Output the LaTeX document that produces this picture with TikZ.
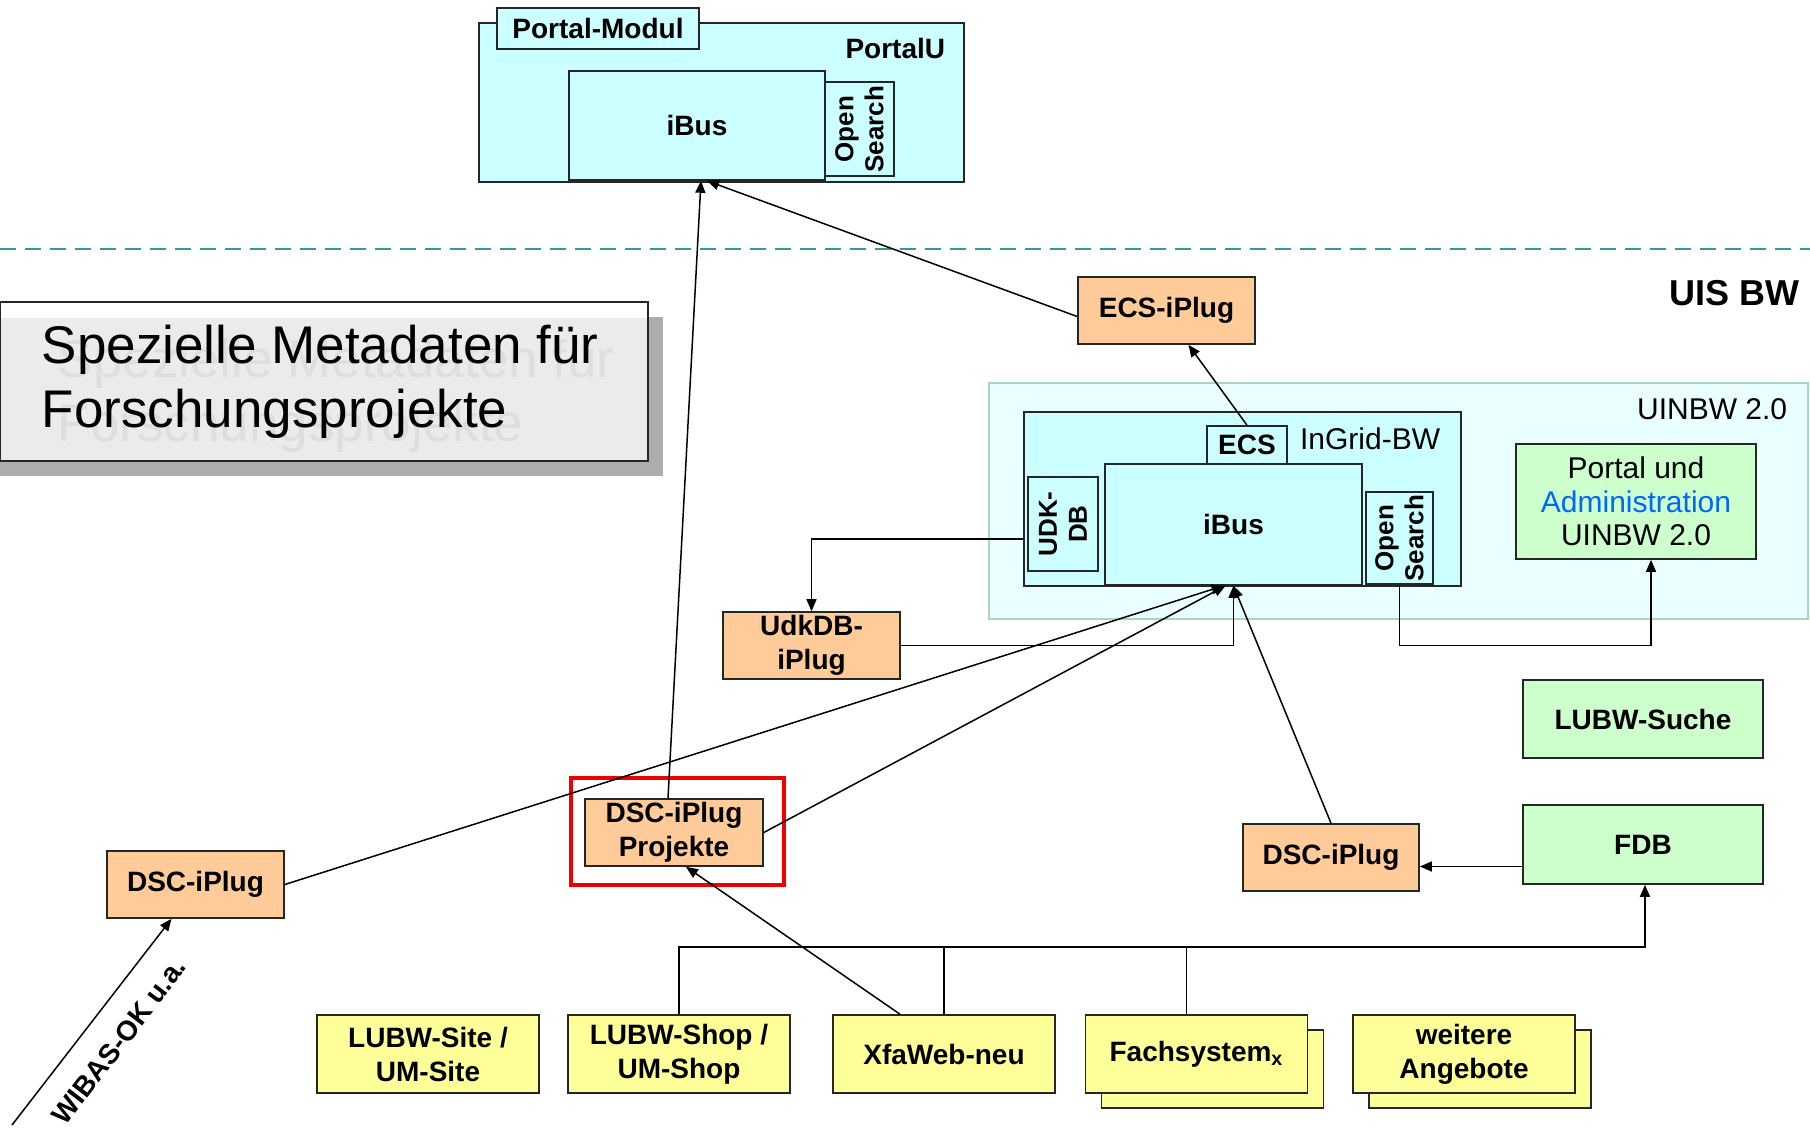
\documentclass[tikz,border=0pt]{standalone}
\usepackage{fontspec}
\setmainfont{Liberation Sans}
\usetikzlibrary{arrows.meta}

\definecolor{boxcyan}{RGB}{204,255,255}
\definecolor{plugorange}{RGB}{255,204,153}
\definecolor{uinbwgreen}{RGB}{204,255,204}
\definecolor{sourceyellow}{RGB}{255,255,153}
\definecolor{uinbwfill}{RGB}{234,255,255}
\definecolor{uinbwline}{RGB}{166,217,188}
\definecolor{dashteal}{RGB}{51,153,153}
\definecolor{panelgray}{RGB}{235,235,235}
\definecolor{shadowgray}{RGB}{173,173,173}
\definecolor{ghostgray}{RGB}{222,222,222}
\definecolor{redframe}{RGB}{240,0,0}
\definecolor{adminblue}{RGB}{0,102,255}
\definecolor{linegray}{RGB}{38,38,38}

\newcommand{\boxfont}{\bfseries\fontsize{14}{17}\selectfont}
\newcommand{\plainfont}{\fontsize{15}{16.7}\selectfont}
\newcommand{\turnfont}{\bfseries\fontsize{13}{15}\selectfont}

\begin{document}
\begin{tikzpicture}[x=0.5pt,y=0.5pt,yscale=-1,xscale=1,
  >={Triangle[length=6pt,width=5pt]},
  every node/.style={inner sep=0.75pt},
  cyanbox/.style={draw=linegray,fill=boxcyan,line width=0.8pt,inner sep=0pt,align=center},
  plugbox/.style={draw=linegray,fill=plugorange,line width=0.8pt,inner sep=0pt,align=center,font=\boxfont,minimum width=88.5pt,minimum height=33.5pt},
  greenbox/.style={draw=linegray,fill=uinbwgreen,line width=0.8pt,inner sep=0pt,align=center,font=\boxfont,minimum width=120pt},
  yellowbox/.style={draw=linegray,fill=sourceyellow,line width=0.8pt,inner sep=0pt,align=center,font=\boxfont,minimum width=111pt,minimum height=39pt},
  turntext/.style={rotate=90,align=center,font=\turnfont,inner sep=0pt},
  conn/.style={draw=black,line width=0.75pt}]
\useasboundingbox (0,0) rectangle (1810,1131);

%Shape: Rectangle
\node[cyanbox,minimum width=242.5pt,minimum height=79.5pt] (portalu) at (721.5,102.5) {};
\node[cyanbox,font=\boxfont,minimum width=101pt,minimum height=20.5pt] (portalmodul) at (598,28.5) {Portal-Modul};
\node[cyanbox,font=\boxfont,minimum width=128pt,minimum height=54.5pt] (ibustop) at (697,125.5) {iBus};
\node[cyanbox,minimum width=34.5pt,minimum height=47pt] (ostop) at (859.5,129) {};
\node[turntext] (ostoptext) at (ostop) {Open\\Search};
% Text Node
\node[font=\boxfont,anchor=east] (portalulabel) at (947,48) {PortalU};

%Straight Lines
\draw[dashteal,line width=1pt,dash pattern=on 8pt off 4.5pt] (0,249) -- (1810,249);
% Text Node
\node[font=\bfseries\fontsize{18}{20}\selectfont,anchor=east] (uisbw) at (1801,293) {UIS BW};

%Shape: Rectangle
\fill[shadowgray] (0,317) rectangle (663,476);
\fill[white] (0,302) rectangle (648,461);
\fill[panelgray] (0,318) rectangle (648,461);
\draw[linegray,line width=0.8pt] (0,302) rectangle (648,461);
% Text Node
\node[anchor=base west,align=left,text=ghostgray,font=\fontsize{26.5}{31.7}\selectfont] (spezialghost) at (56,441) {Spezielle Metadaten für\\Forschungsprojekte};
\node[anchor=base west,align=left,font=\fontsize{26.5}{31.7}\selectfont] (spezial) at (40,427) {Spezielle Metadaten für\\Forschungsprojekte};

%Shape: Rectangle
\node[plugbox] (ecsiplug) at (1166.5,310.5) {ECS-iPlug};

%Shape: Rectangle
\node[draw=uinbwline,fill=uinbwfill,line width=0.8pt,minimum width=409.5pt,minimum height=118pt] (uinbw) at (1398.5,501) {};
\node[font=\plainfont,anchor=east] (uinbwlabel) at (1789,409) {UINBW 2.0};
\node[cyanbox,minimum width=218.5pt,minimum height=87pt] (ingrid) at (1242.5,499) {};
\node[font=\plainfont,anchor=east] (ingridlabel) at (1442,439) {InGrid-BW};
\node[cyanbox,font=\boxfont,minimum width=40pt,minimum height=19pt] (ecs) at (1247,445) {ECS};
\node[cyanbox,font=\boxfont,minimum width=128.5pt,minimum height=60.5pt] (ibus) at (1233.5,524.5) {iBus};
\node[cyanbox,minimum width=35pt,minimum height=47pt] (udkdb) at (1063,524) {};
\node[turntext] (udkdbtext) at (udkdb) {UDK-\\DB};
\node[cyanbox,minimum width=33.5pt,minimum height=46pt] (osearch) at (1399.5,538) {};
\node[turntext] (osearchtext) at (osearch) {Open\\Search};
\node[greenbox,font=\plainfont,minimum height=57.5pt] (portaladmin) at (1636,501.5) {Portal und\\\textcolor{adminblue}{Administration}\\UINBW 2.0};

%Shape: Rectangle
\node[plugbox] (udkiplug) at (811.5,645.5) {UdkDB-\\iPlug};
\node[greenbox,minimum height=39pt] (lubwsuche) at (1643,719) {LUBW-Suche};
\node[greenbox,minimum height=39.5pt] (fdb) at (1643,844.5) {FDB};
\node[plugbox,minimum width=88pt] (dscright) at (1331,857.5) {DSC-iPlug};
\node[draw=redframe,line width=2.2pt,minimum width=106.5pt,minimum height=53.5pt] (redmark) at (677.5,831.5) {};
\node[plugbox,minimum width=89pt] (dscprojekte) at (674,832.5) {DSC-iPlug\\Projekte};
\node[plugbox] (dscleft) at (195.5,884.5) {DSC-iPlug};

%Shape: Rectangle
\node[yellowbox] (fachcopy) at (1212.5,1069) {};
\node[yellowbox] (weitercopy) at (1480,1069) {};
\node[yellowbox] (lubwsite) at (428,1054) {LUBW-Site /\\UM-Site};
\node[yellowbox] (lubwshop) at (679,1054) {LUBW-Shop /\\UM-Shop};
\node[yellowbox] (xfaweb) at (944,1054) {XfaWeb-neu};
\node[yellowbox] (fachsystem) at (1196.5,1054) {Fachsystem\textsubscript{x}};
\node[yellowbox] (weitere) at (1464,1054) {weitere\\Angebote};

%Straight Lines
\draw[conn,->] ([xshift=-3pt]dscprojekte.north) -- ([xshift=2pt]ibustop.south);
\draw[conn,->] ([yshift=3pt]ecsiplug.west) -- ([xshift=5pt]ibustop.south);
\draw[conn,->] (ecs.north) -- ([xshift=11pt]ecsiplug.south);
\draw[conn,->] ([yshift=20pt]ingrid.west) -| (udkiplug.north);
\draw[conn,->] (udkiplug.east) -| (ibus.south);
\draw[conn,->] (dscleft.east) -- ([xshift=-5pt]ibus.south);
\draw[conn,->] (dscprojekte.east) -- ([xshift=-4pt]ibus.south);
\draw[conn,->] (dscright.north) -- (ibus.south);
\draw[conn,->] (osearch.south) -- (osearch.south |- udkiplug.east) -| ([xshift=7.5pt]portaladmin.south);
\draw[conn,->] ([yshift=11pt]fdb.west) -- ([yshift=11pt]fdb.west -| dscright.east);

%Straight Lines
\coordinate (busy) at (0,947);
\draw[conn,->] (lubwshop.north) -- (lubwshop.north |- busy) -| ([xshift=1pt]fdb.south);
\draw[conn] (xfaweb.north) -- (xfaweb.north |- busy);
\draw[conn] ([xshift=-5pt]fachsystem.north) -- ([xshift=-5pt]fachsystem.north |- busy);
\draw[conn,->] ([xshift=-22pt]xfaweb.north) -- ([xshift=6pt]dscprojekte.south);

%Straight Lines
\coordinate (wibas) at (12,1125);
\draw[conn,->] (wibas) -- ([xshift=-12pt]dscleft.south);
% Text Node
\node[rotate=52.5,font=\boxfont] (wibaslabel) at (119,1041) {WIBAS-OK u.a.};

\end{tikzpicture}
\end{document}
